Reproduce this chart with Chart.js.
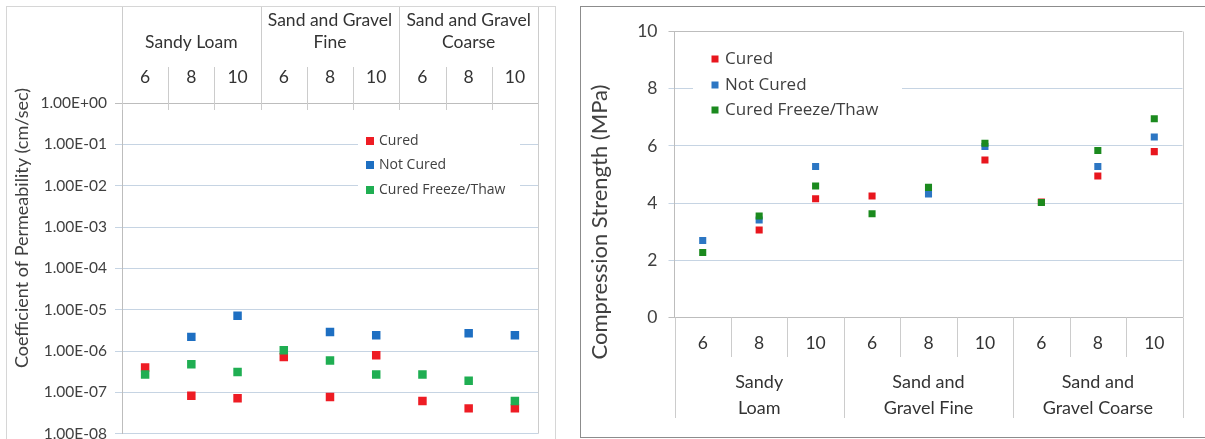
<!DOCTYPE html>
<html>
<head>
<meta charset="utf-8">
<script src="https://cdn.jsdelivr.net/npm/chart.js@4.4.1/dist/chart.umd.min.js"></script>
<style>
  body { margin: 0; width: 1205px; height: 439px; overflow: hidden; position: relative; background: #fff; }
  .frame { position: absolute; box-sizing: border-box; }
  #frame1 { left: 6px; top: 6px; width: 550px; height: 460px; border: 1px solid #d6d6d6; }
  #frame2 { left: 580px; top: 6px; width: 660px; height: 432px; border: 1px solid #8c8c8c; }
  canvas { position: absolute; }
  #permChart { left: 7px; top: 7px; }
  #strengthChart { left: 581px; top: 7px; }
</style>
</head>
<body>
<div class="frame" id="frame1"></div>
<div class="frame" id="frame2"></div>
<canvas id="permChart" width="548" height="444"></canvas>
<canvas id="strengthChart" width="623" height="429"></canvas>
<script>
// categories and groups
const categories = ['6', '8', '10', '6', '8', '10', '6', '8', '10'];
const topGroups = [['Sandy Loam'], ['Sand and Gravel', 'Fine'], ['Sand and Gravel', 'Coarse']];
const bottomGroups = [['Sandy', 'Loam'], ['Sand and', 'Gravel Fine'], ['Sand and', 'Gravel Coarse']];
const seriesNames = ['Cured', 'Not Cured', 'Cured Freeze/Thaw'];

// coefficient of permeability (cm/sec)
const permCured = [4.0e-7, 8.3e-8, 7.2e-8, 7.2e-7, 7.7e-8, 7.9e-7, 6.2e-8, 4.1e-8, 4.1e-8];
const permNotCured = [null, 2.2e-6, 7.1e-6, null, 2.9e-6, 2.4e-6, null, 2.7e-6, 2.4e-6];
const permFreezeThaw = [2.7e-7, 4.8e-7, 3.1e-7, 1.05e-6, 5.9e-7, 2.7e-7, 2.7e-7, 1.9e-7, 6.2e-8];
const permTicks = [1e-8, 1e-7, 1e-6, 1e-5, 1e-4, 1e-3, 1e-2, 1e-1, 1];

// compression strength (MPa)
const strengthCured = [null, 3.06, 4.15, 4.25, null, 5.51, 4.04, 4.95, 5.80];
const strengthNotCured = [2.69, 3.41, 5.28, null, 4.32, 5.98, null, 5.28, 6.31];
const strengthFreezeThaw = [2.27, 3.55, 4.60, 3.63, 4.55, 6.09, 4.02, 5.84, 6.95];
const strengthTicks = [0, 2, 4, 6, 8, 10];

const leftColors = ['#ee1c24', '#1e6fc2', '#1fae52'];
const rightColors = ['#e8161e', '#2c76c3', '#1b8a1e'];
const gridBlue = '#c6d4e3';
const axisGray = '#bdbdbd';
const textColor = '#404040';
const axisFont = 'Lato, "Open Sans", sans-serif';
const legendFont = '"Open Sans", Lato, sans-serif';

function sciLabel(v) {
  const e = Math.round(Math.log10(v));
  return '1.00E' + (e < 0 ? '-' : '+') + String(Math.abs(e)).padStart(2, '0');
}

function makeSets(values, colors, radius) {
  return values.map((d, i) => ({
    label: seriesNames[i],
    data: d,
    showLine: false,
    backgroundColor: colors[i],
    borderColor: colors[i],
    borderWidth: 0,
    pointStyle: 'rect',
    pointRadius: radius,
    order: 3 - i
  }));
}

function drawLegend(ctx, box, markX, textX, rows, colors, font, size) {
  ctx.save();
  ctx.fillStyle = '#fff';
  ctx.fillRect(box[0], box[1], box[2], box[3]);
  ctx.font = font;
  ctx.textAlign = 'left';
  ctx.textBaseline = 'middle';
  seriesNames.forEach((name, i) => {
    ctx.fillStyle = colors[i];
    ctx.fillRect(markX - size / 2, rows[i] - size / 2, size, size);
    ctx.fillStyle = textColor;
    ctx.fillText(name, textX, rows[i]);
  });
  ctx.restore();
}

function drawVTitle(ctx, text, x, y, font) {
  ctx.save();
  ctx.translate(x, y);
  ctx.rotate(-Math.PI / 2);
  ctx.font = font;
  ctx.fillStyle = textColor;
  ctx.textAlign = 'center';
  ctx.textBaseline = 'middle';
  ctx.fillText(text, 0, 0);
  ctx.restore();
}

function vline(ctx, x, y1, y2) {
  ctx.beginPath();
  ctx.moveTo(x, y1);
  ctx.lineTo(x, y2);
  ctx.stroke();
}

const permHeader = {
  id: 'permHeader',
  afterDraw(chart) {
    const { ctx, chartArea: a, scales: { x } } = chart;
    const step = x.getPixelForValue(1) - x.getPixelForValue(0);
    ctx.save();
    ctx.strokeStyle = '#cccccc';
    ctx.lineWidth = 1;
    for (let i = 0; i <= categories.length; i++) {
      const bx = Math.round(x.getPixelForValue(i) - step / 2) + 0.5;
      vline(ctx, bx, i % 3 === 0 ? 0 : 60, a.top + 7);
    }
    vline(ctx, Math.round(a.right) + 0.5, a.top, a.bottom);
    ctx.fillStyle = '#333';
    ctx.font = '17.5px ' + axisFont;
    ctx.textAlign = 'center';
    ctx.textBaseline = 'middle';
    topGroups.forEach((lines, g) => {
      const cx = x.getPixelForValue(g * 3 + 1);
      const ys = lines.length === 1 ? [35] : [13, 35];
      lines.forEach((t, k) => ctx.fillText(t, cx, ys[k]));
    });
    ctx.restore();
    drawLegend(ctx, [351, 124, 162, 66], 363, 372, [134, 158, 183], leftColors, '14px ' + legendFont, 8);
    drawVTitle(ctx, 'Coefficient of Permeability (cm/sec)', 15, 221, '18px ' + axisFont);
  }
};

const strengthHeader = {
  id: 'strengthHeader',
  afterDraw(chart) {
    const { ctx, chartArea: a, scales: { x } } = chart;
    const step = x.getPixelForValue(1) - x.getPixelForValue(0);
    ctx.save();
    ctx.strokeStyle = '#cccccc';
    ctx.lineWidth = 1;
    for (let i = 0; i <= categories.length; i++) {
      const bx = Math.round(x.getPixelForValue(i) - step / 2) + 0.5;
      vline(ctx, bx, a.bottom, i % 3 === 0 ? 411 : 350);
    }
    vline(ctx, Math.round(a.right) + 0.5, a.top, a.bottom);
    ctx.fillStyle = '#333';
    ctx.font = '18px ' + axisFont;
    ctx.textAlign = 'center';
    ctx.textBaseline = 'middle';
    bottomGroups.forEach((lines, g) => {
      const cx = x.getPixelForValue(g * 3 + 1);
      lines.forEach((t, k) => ctx.fillText(t, cx, 375 + k * 26));
    });
    ctx.restore();
    drawLegend(ctx, [112, 38, 209, 78], 134, 144, [52, 78, 103], rightColors, '17px ' + legendFont, 7);
    drawVTitle(ctx, 'Compression Strength (MPa)', 19, 215, '22px ' + axisFont);
  }
};

new Chart(document.getElementById('permChart'), {
  type: 'line',
  data: {
    labels: categories,
    datasets: makeSets([permCured, permNotCured, permFreezeThaw], leftColors, 6)
  },
  options: {
    responsive: false,
    animation: false,
    layout: { padding: { top: 0, left: 0, right: 17, bottom: 10 } },
    plugins: { legend: { display: false }, tooltip: { enabled: false } },
    scales: {
      x: {
        position: 'top',
        offset: true,
        grid: { display: false, drawTicks: false },
        border: { display: true, color: axisGray },
        ticks: { color: '#333', font: { family: axisFont, size: 17.5 }, padding: 15, maxRotation: 0, autoSkip: false },
        afterFit(s) { s.height = 96; }
      },
      y: {
        type: 'logarithmic',
        min: 1e-8,
        max: 1,
        afterBuildTicks(s) { s.ticks = permTicks.map(v => ({ value: v })); },
        ticks: { callback: v => sciLabel(v), color: textColor, font: { family: axisFont, size: 15.5 }, padding: 8 },
        grid: { color: c => (c.tick && c.tick.value === 1 ? axisGray : gridBlue), tickLength: 7 },
        border: { color: axisGray },
        afterFit(s) { s.width = 115; }
      }
    }
  },
  plugins: [permHeader]
});

new Chart(document.getElementById('strengthChart'), {
  type: 'line',
  data: {
    labels: categories,
    datasets: makeSets([strengthCured, strengthNotCured, strengthFreezeThaw], rightColors, 5)
  },
  options: {
    responsive: false,
    animation: false,
    layout: { padding: { top: 24.5, left: 0, right: 21.5, bottom: 0 } },
    plugins: { legend: { display: false }, tooltip: { enabled: false } },
    scales: {
      x: {
        position: 'bottom',
        offset: true,
        grid: { display: false, drawTicks: false },
        border: { display: true, color: axisGray },
        ticks: { color: '#333', font: { family: axisFont, size: 17.5 }, padding: 15, maxRotation: 0, autoSkip: false },
        afterFit(s) { s.height = 118.5; }
      },
      y: {
        min: 0,
        max: 10,
        afterBuildTicks(s) { s.ticks = strengthTicks.map(v => ({ value: v })); },
        ticks: { color: textColor, font: { family: axisFont, size: 17.5 }, padding: 11 },
        grid: { color: c => (c.tick && (c.tick.value === 10 || c.tick.value === 0) ? axisGray : gridBlue), tickLength: 6 },
        border: { color: axisGray },
        afterFit(s) { s.width = 93.5; }
      }
    }
  },
  plugins: [strengthHeader]
});
</script>
</body>
</html>
